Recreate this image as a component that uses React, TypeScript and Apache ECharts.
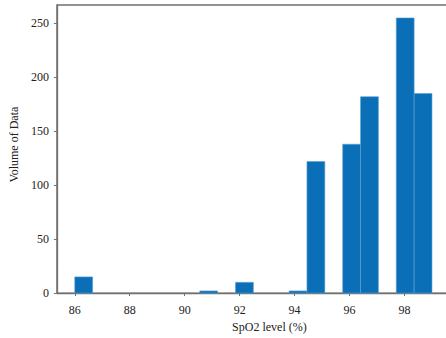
import React, { useEffect, useRef } from "react";
import * as echarts from "echarts";

// Histogram bins (SpO2 %), 20 bins of width 0.65 from 86 to 99
const binStarts = [86, 86.65, 87.3, 87.95, 88.6, 89.25, 89.9, 90.55, 91.2, 91.85, 92.5, 93.15, 93.8, 94.45, 95.1, 95.75, 96.4, 97.05, 97.7, 98.35];
const binEnds = [86.65, 87.3, 87.95, 88.6, 89.25, 89.9, 90.55, 91.2, 91.85, 92.5, 93.15, 93.8, 94.45, 95.1, 95.75, 96.4, 97.05, 97.7, 98.35, 99];
const counts = [15, 0, 0, 0, 0, 0, 0, 2, 0, 10, 0, 0, 2, 122, 0, 138, 182, 0, 255, 185];
const xTicks = [86, 88, 90, 92, 94, 96, 98];
const yTicks = [0, 50, 100, 150, 200, 250];

const FONT = "'Liberation Serif', 'Times New Roman', serif";
const SPINE = "#707070";

export default function App() {
  const ref = useRef<HTMLDivElement>(null);
  useEffect(() => {
    if (!ref.current) return;
    const chart = echarts.init(ref.current, undefined, { renderer: "svg" });
    const data = binStarts.map((s, i) => [s, binEnds[i], counts[i]]);
    chart.setOption({
      animation: false,
      grid: {
        left: 56,
        right: 8,
        top: 5,
        bottom: 43,
        show: true,
        borderColor: SPINE,
        borderWidth: 1.3,
        backgroundColor: "transparent",
      },
      xAxis: {
        type: "value",
        min: 85.35,
        max: 100.82,
        splitNumber: 7,
        name: "SpO2 level (%)",
        nameLocation: "middle",
        nameGap: 25,
        nameTextStyle: { fontFamily: FONT, fontSize: 12, color: "#222" },
        axisLine: { show: true, lineStyle: { color: SPINE, width: 1.3 } },
        axisTick: { show: true, length: 3, customValues: xTicks, lineStyle: { color: SPINE } },
        axisLabel: {
          customValues: xTicks,
          margin: 11,
          fontFamily: FONT,
          fontSize: 12,
          color: "#222",
        },
        splitLine: { show: false },
      },
      yAxis: {
        type: "value",
        min: 0,
        max: 267,
        name: "Volume of Data",
        nameLocation: "middle",
        nameGap: 31,
        nameTextStyle: { fontFamily: FONT, fontSize: 12, color: "#222", padding: [0, 0, 0, 9] },
        axisLine: { show: true, lineStyle: { color: SPINE, width: 1.3 } },
        axisTick: { show: true, length: 3, customValues: yTicks, lineStyle: { color: SPINE } },
        axisLabel: {
          customValues: yTicks,
          margin: 8,
          fontFamily: FONT,
          fontSize: 12,
          color: "#222",
        },
        splitLine: { show: false },
      },
      series: [
        {
          type: "custom",
          data,
          encode: { x: [0, 1], y: 2 },
          renderItem: (params: any, api: any) => {
            const v = api.value(2);
            if (!v) return null;
            const p0 = api.coord([api.value(0), 0]);
            const p1 = api.coord([api.value(1), v]);
            return {
              type: "rect",
              shape: { x: p0[0], y: p1[1], width: p1[0] - p0[0], height: p0[1] - p1[1] },
              style: { fill: "#0a6fb6", stroke: "#5c9fd3", lineWidth: 0.6 },
            };
          },
        },
      ],
    });
    return () => chart.dispose();
  }, []);
  return (
    <div style={{ position: "absolute", left: 0, top: 0, width: 446, height: 338, overflow: "hidden" }}>
      <div ref={ref} style={{ width: 490, height: 338 }} />
    </div>
  );
}
